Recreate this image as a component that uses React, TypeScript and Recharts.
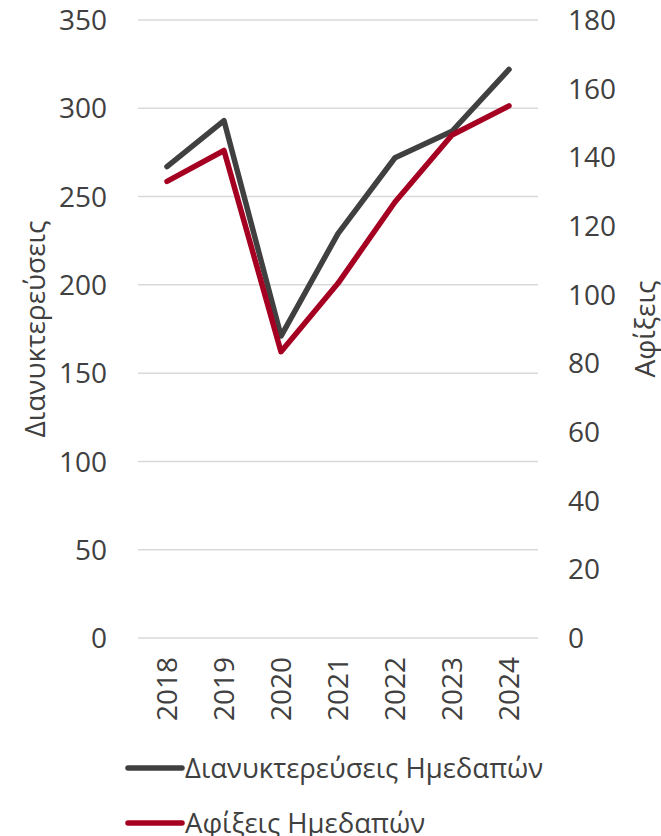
import React from 'react';
import { LineChart, Line, XAxis, YAxis, CartesianGrid } from 'recharts';

const years = ['2018', '2019', '2020', '2021', '2022', '2023', '2024'];
const overnights = [267, 293, 171, 229, 272, 287, 322];
const arrivals = [133, 142, 83.4, 103.3, 127, 146.5, 155];
const leftTicks = [0, 50, 100, 150, 200, 250, 300, 350];
const rightTicks = [0, 20, 40, 60, 80, 100, 120, 140, 160, 180];
const seriesNames = ['Διανυκτερεύσεις Ημεδαπών', 'Αφίξεις Ημεδαπών'];
const leftTitle = 'Διανυκτερεύσεις';
const rightTitle = 'Αφίξεις';

const data = years.map((y, i) => ({ year: y, a: overnights[i], b: arrivals[i] }));

const FONT = '"Open Sans", sans-serif';
const TXT = '#404040';
const FS = 28;
const C1 = '#404040';
const C2 = '#A50021';

const XTick = (p: any) => (
  <g transform={`translate(${p.x},${p.y})`}>
    <text transform="rotate(-90)" textAnchor="end" dy="0.36em" fill={TXT} fontSize={FS} fontFamily={FONT}>
      {p.payload.value}
    </text>
  </g>
);

const LTick = (p: any) => (
  <text x={p.x} y={p.y} textAnchor="end" dy="0.36em" fill={TXT} fontSize={FS} fontFamily={FONT}>
    {p.payload.value}
  </text>
);

const RTick = (p: any) => (
  <text x={p.x} y={p.y} textAnchor="start" dy="0.36em" fill={TXT} fontSize={FS} fontFamily={FONT}>
    {p.payload.value}
  </text>
);

const LTitle = (p: any) => {
  const vb = p.viewBox;
  const cx = vb.x + 35;
  const cy = vb.y + vb.height / 2;
  return (
    <text x={cx} y={cy} transform={`rotate(-90,${cx},${cy})`} textAnchor="middle" dy="0.36em" fill={TXT} fontSize={FS} fontFamily={FONT}>
      {leftTitle}
    </text>
  );
};

const RTitle = (p: any) => {
  const vb = p.viewBox;
  const cx = vb.x + 107;
  const cy = vb.y + vb.height / 2;
  return (
    <text x={cx} y={cy} transform={`rotate(-90,${cx},${cy})`} textAnchor="middle" dy="0.36em" fill={TXT} fontSize={FS} fontFamily={FONT}>
      {rightTitle}
    </text>
  );
};

const colors = [C1, C2];

export default function App() {
  return (
    <div style={{ position: 'absolute', left: 0, top: 0, width: 661, height: 836, background: '#fff', overflow: 'hidden' }}>
      <LineChart width={661} height={836} data={data} margin={{ top: 20, right: 0, bottom: 0, left: 0 }}>
        <CartesianGrid yAxisId="left" vertical={false} stroke="#d9d9d9" strokeWidth={1.5} />
        <XAxis
          dataKey="year"
          height={198}
          padding={{ left: 29, right: 29 }}
          axisLine={false}
          tickLine={false}
          tickSize={0}
          tickMargin={19}
          interval={0}
          tick={<XTick />}
        />
        <YAxis
          yAxisId="left"
          orientation="left"
          width={138}
          domain={[0, 350]}
          ticks={leftTicks}
          axisLine={false}
          tickLine={false}
          tickSize={0}
          tickMargin={31}
          interval={0}
          tick={<LTick />}
          label={<LTitle />}
        />
        <YAxis
          yAxisId="right"
          orientation="right"
          width={123}
          domain={[0, 180]}
          ticks={rightTicks}
          axisLine={false}
          tickLine={false}
          tickSize={0}
          tickMargin={30}
          interval={0}
          tick={<RTick />}
          label={<RTitle />}
        />
        <Line yAxisId="left" dataKey="a" name={seriesNames[0]} stroke={C1} strokeWidth={5.5} dot={false} strokeLinecap="round" strokeLinejoin="round" isAnimationActive={false} />
        <Line yAxisId="right" dataKey="b" name={seriesNames[1]} stroke={C2} strokeWidth={5.5} dot={false} strokeLinecap="round" strokeLinejoin="round" isAnimationActive={false} />
      </LineChart>
      <div style={{ position: 'absolute', left: 125, top: 740, fontFamily: FONT, fontSize: 27.5, color: TXT }}>
        {seriesNames.map((n, i) => (
          <div key={n} style={{ display: 'flex', alignItems: 'center', height: 55 }}>
            <svg width={60} height={10} style={{ display: 'block' }}>
              <line x1={3} y1={5} x2={57} y2={5} stroke={colors[i]} strokeWidth={5.5} strokeLinecap="round" />
            </svg>
            <span style={{ lineHeight: '40px', whiteSpace: 'nowrap' }}>{n}</span>
          </div>
        ))}
      </div>
    </div>
  );
}
